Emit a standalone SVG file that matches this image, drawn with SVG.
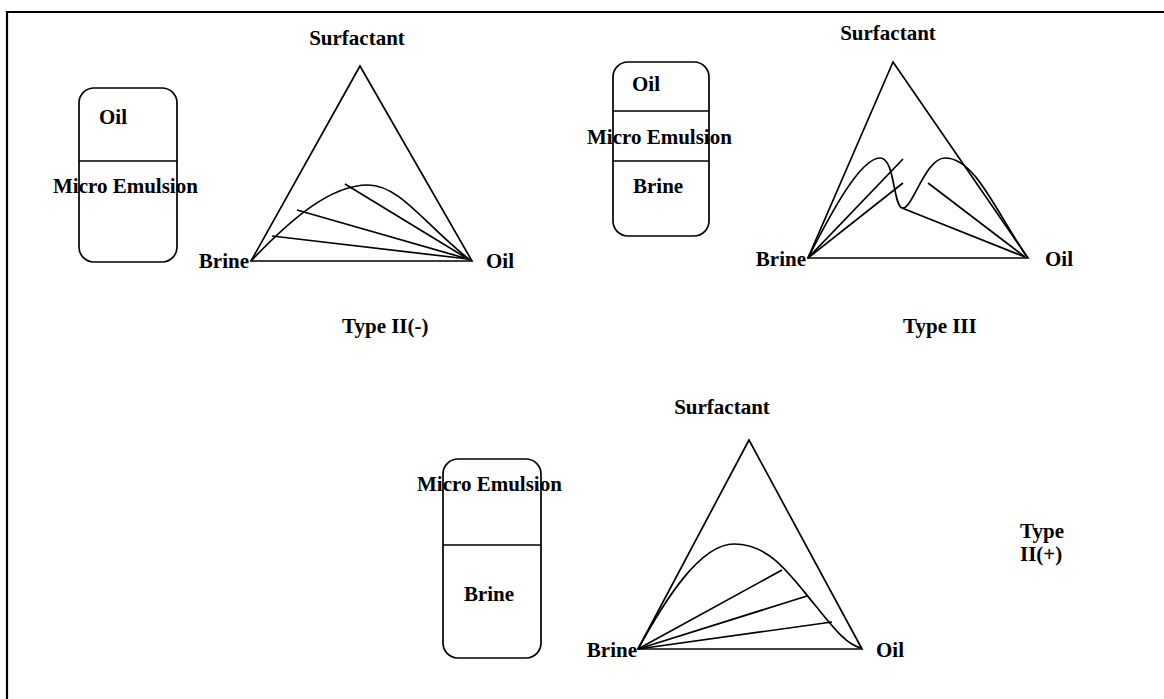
<svg xmlns="http://www.w3.org/2000/svg" width="1164" height="699" viewBox="0 0 1164 699">
<style>
  .t{font-family:"Liberation Serif","Times New Roman",serif;font-weight:bold;font-size:21px;fill:#000}
  .ln{fill:none;stroke:#000;stroke-width:1.7;stroke-linejoin:miter}
  .box{fill:none;stroke:#000;stroke-width:1.7}
</style>
<rect width="1164" height="699" fill="#fff"/>
<g id="frame">
  <line x1="7" y1="12" x2="1164" y2="12" stroke="#000" stroke-width="2.2"/>
  <line x1="7" y1="11" x2="7" y2="699" stroke="#000" stroke-width="2.2"/>
</g>

<!-- Panel 1: Type II(-) -->
<g id="box1">
  <rect class="box" x="79" y="88" width="98" height="174" rx="15"/>
  <line class="ln" x1="79" y1="161" x2="177" y2="161"/>
  <text class="t" x="99" y="124">Oil</text>
  <text class="t" x="53" y="193">Micro Emulsion</text>
</g>
<g id="tri1">
  <polygon class="ln" points="360,66 251,261 472,261"/>
  <path class="ln" d="M251,261 C290,220 330,185 368,185 C400,185 425,225 470,260"/>
  <text class="t" x="357" y="45" text-anchor="middle">Surfactant</text>
  <text class="t" x="249" y="268" text-anchor="end">Brine</text>
  <text class="t" x="486" y="268">Oil</text>
</g>
<g id="label1">
  <text class="t" x="342" y="333">Type II(-)</text>
</g>

<!-- Panel 2: Type III -->
<g id="box2">
  <rect class="box" x="613" y="62" width="96" height="174" rx="15"/>
  <line class="ln" x1="613" y1="111" x2="709" y2="111"/>
  <line class="ln" x1="613" y1="161" x2="709" y2="161"/>
  <text class="t" x="632" y="91">Oil</text>
  <text class="t" x="587" y="144">Micro Emulsion</text>
  <text class="t" x="633" y="193">Brine</text>
</g>
<g id="tri2">
  <polygon class="ln" points="893,62 808,258 1028,258"/>
  <path class="ln" d="M808,258 C830,215 860,158 880,158 C895,158 893,205 902,208 C912,211 925,158 945,158 C975,158 995,210 1027,257"/>
  <text class="t" x="888" y="40" text-anchor="middle">Surfactant</text>
  <text class="t" x="806" y="266" text-anchor="end">Brine</text>
  <text class="t" x="1045" y="266">Oil</text>
</g>
<g id="label2">
  <text class="t" x="903" y="333">Type III</text>
</g>

<!-- Panel 3: Type II(+) -->
<g id="box3">
  <rect class="box" x="443" y="459" width="98" height="199" rx="15"/>
  <line class="ln" x1="443" y1="545" x2="541" y2="545"/>
  <text class="t" x="417" y="491">Micro Emulsion</text>
  <text class="t" x="489" y="601" text-anchor="middle">Brine</text>
</g>
<g id="tri3">
  <polygon class="ln" points="749,440 638,649 862,649"/>
  <path class="ln" d="M638,649 C665,600 700,544 734,544 C770,544 790,575 815,605 C835,630 848,646 862,648"/>
  <text class="t" x="722" y="414" text-anchor="middle">Surfactant</text>
  <text class="t" x="637" y="657" text-anchor="end">Brine</text>
  <text class="t" x="876" y="657">Oil</text>
</g>
<g id="label3">
  <text class="t" x="1020" y="538">Type</text>
  <text class="t" x="1020" y="561">II(+)</text>
</g>

<!-- tie lines -->
<g id="connectors">
  <line class="ln" x1="468" y1="259" x2="345" y2="184"/>
  <line class="ln" x1="468" y1="259" x2="297" y2="210"/>
  <line class="ln" x1="468" y1="259" x2="272" y2="236"/>
  <line class="ln" x1="808" y1="258" x2="903" y2="159"/>
  <line class="ln" x1="808" y1="258" x2="903" y2="183"/>
  <line class="ln" x1="902" y1="208" x2="1025" y2="257"/>
  <line class="ln" x1="1025" y1="257" x2="928" y2="183"/>
  <line class="ln" x1="638" y1="649" x2="782" y2="570"/>
  <line class="ln" x1="638" y1="649" x2="807" y2="596"/>
  <line class="ln" x1="638" y1="649" x2="832" y2="622"/>
</g>
</svg>
